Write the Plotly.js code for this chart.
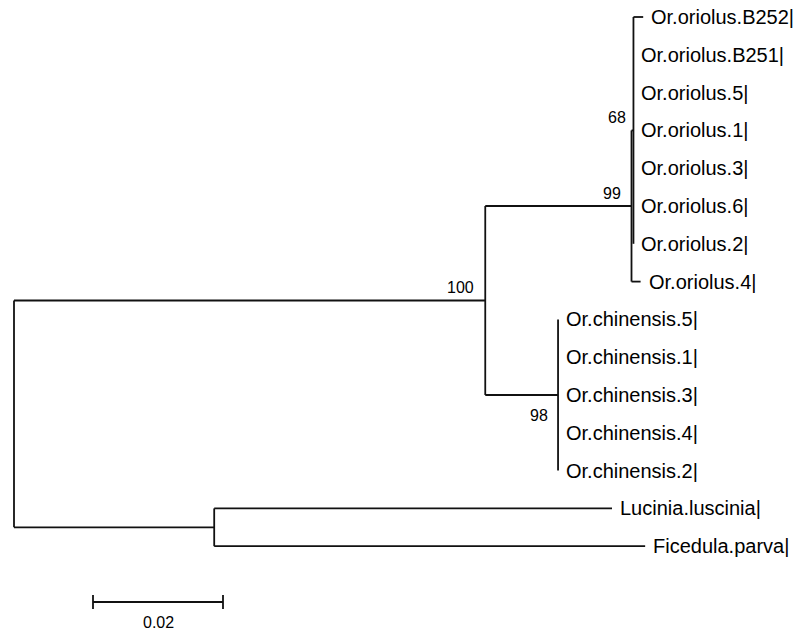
<!DOCTYPE html>
<html>
<head>
<meta charset="utf-8">
<script src="https://cdn.plot.ly/plotly-3.0.1.min.js"></script>
<style>html,body{margin:0;padding:0;background:#fff;}#chart{width:800px;height:632px;}</style>
</head>
<body>
<div id="chart"></div>
<script>
// ---- Data ----
// Tip labels, in drawing order (top to bottom)
const taxa = [
  'Or.oriolus.B252|', 'Or.oriolus.B251|', 'Or.oriolus.5|', 'Or.oriolus.1|',
  'Or.oriolus.3|', 'Or.oriolus.6|', 'Or.oriolus.2|', 'Or.oriolus.4|',
  'Or.chinensis.5|', 'Or.chinensis.1|', 'Or.chinensis.3|', 'Or.chinensis.4|',
  'Or.chinensis.2|', 'Lucinia.luscinia|', 'Ficedula.parva|'
];
// Internal nodes
const internalNodes = ['root', 'n100', 'n99', 'n68', 'n98', 'nOut'];
const internalParents = [null, 'root', 'n100', 'n99', 'n100', 'root'];
const internalBranchLengths = [0, 0.0725, 0.0225, 0.0003, 0.0112, 0.0308];
// Tip parents and branch lengths
const taxaParents = ['n68', 'n68', 'n68', 'n68', 'n68', 'n68', 'n68', 'n99',
  'n98', 'n98', 'n98', 'n98', 'n98', 'nOut', 'nOut'];
const taxaBranchLengths = [0.0015, 0, 0, 0, 0, 0, 0, 0.0014,
  0, 0, 0, 0, 0, 0.0612, 0.0663];
// Bootstrap support values
const bootNodes = ['n100', 'n99', 'n68', 'n98'];
const bootValues = ['100', '99', '68', '98'];
// Scale bar
const scaleBarLength = 0.02;
const scaleBarLabel = '0.02';

// ---- Tree layout ----
const names = internalNodes.concat(taxa);
const parents = internalParents.concat(taxaParents);
const lens = internalBranchLengths.concat(taxaBranchLengths);
const node = {};
names.forEach((n, i) => node[n] = {name: n, parent: parents[i], len: lens[i], children: []});
names.forEach(n => { const p = node[n].parent; if (p) node[p].children.push(n); });
taxa.forEach((t, i) => node[t].y = i);
function setX(n, x) { node[n].x = x; node[n].children.forEach(c => setX(c, x + node[c].len)); }
setX('root', 0);
function setY(n) {
  const nd = node[n];
  if (nd.children.length === 0) return nd.y;
  const ys = nd.children.map(setY);
  nd.y = ys.reduce((a, b) => a + b, 0) / ys.length;
  return nd.y;
}
setY('root');

const lx = [], ly = [];
names.forEach(n => {
  const nd = node[n];
  if (nd.parent) {
    lx.push(node[nd.parent].x, nd.x, null); ly.push(nd.y, nd.y, null);
  }
  if (nd.children.length) {
    const cy = nd.children.map(c => node[c].y);
    lx.push(nd.x, nd.x, null); ly.push(Math.min(...cy), Math.max(...cy), null);
  }
});

// ---- Style / placement ----
const pxPerUnit = 6500, rootPx = 14, tipTopPx = 17, tipStep = 37.8;
const W = 800, H = 632;
const xRange = [-rootPx / pxPerUnit, (W - rootPx) / pxPerUnit];
const yRange = [(H - tipTopPx) / tipStep, -tipTopPx / tipStep];
const bar = {x0: (93 - rootPx) / pxPerUnit, y: (602 - tipTopPx) / tipStep, tick: 7 / tipStep};
const bootOffsets = {n100: [-9, 13], n99: [-9, 13], n68: [-5, 13], n98: [-8, -20]};
const lineColor = '#111';
const font = 'Liberation Sans, Arial, sans-serif';

const bx = bar.x0, bx1 = bar.x0 + scaleBarLength;
const traces = [
  {x: lx, y: ly, mode: 'lines', line: {color: lineColor, width: 1.8}, hoverinfo: 'skip', showlegend: false},
  {x: [bx, bx1, null, bx, bx, null, bx1, bx1], y: [bar.y, bar.y, null, bar.y - bar.tick, bar.y + bar.tick, null, bar.y - bar.tick, bar.y + bar.tick],
   mode: 'lines', line: {color: lineColor, width: 1.8}, hoverinfo: 'skip', showlegend: false}
];

const annotations = [];
taxa.forEach(t => annotations.push({
  x: node[t].x, y: node[t].y, text: t, showarrow: false, xanchor: 'left', yanchor: 'middle',
  xshift: 6, font: {family: font, size: 20, color: '#000'}
}));
bootNodes.forEach((n, i) => annotations.push({
  x: node[n].x, y: node[n].y, text: bootValues[i], showarrow: false, xanchor: 'right', yanchor: 'middle',
  xshift: bootOffsets[n][0], yshift: bootOffsets[n][1], font: {family: font, size: 16, color: '#000'}
}));
annotations.push({x: bx + scaleBarLength / 2, y: bar.y, text: scaleBarLabel, showarrow: false,
  xanchor: 'center', yanchor: 'middle', yshift: -20, font: {family: font, size: 16, color: '#000'}});

const layout = {
  width: W, height: H, margin: {l: 0, r: 0, t: 0, b: 0},
  paper_bgcolor: '#fff', plot_bgcolor: '#fff',
  xaxis: {range: xRange, visible: false, showgrid: false, zeroline: false, fixedrange: true},
  yaxis: {range: yRange, visible: false, showgrid: false, zeroline: false, fixedrange: true},
  annotations: annotations, showlegend: false
};
Plotly.newPlot('chart', traces, layout, {displayModeBar: false, staticPlot: true});
</script>
</body>
</html>
